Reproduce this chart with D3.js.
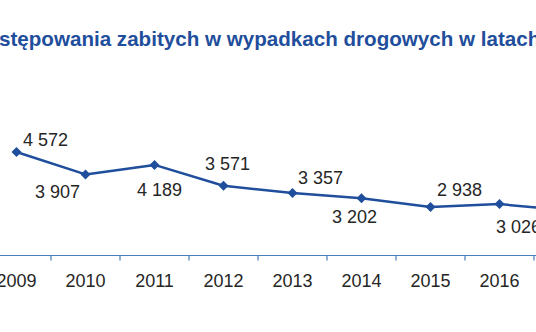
<!DOCTYPE html>
<html>
<head>
<meta charset="utf-8">
<script src="https://cdn.jsdelivr.net/npm/d3@7"></script>
<style>
  html, body { margin: 0; padding: 0; background: #fff; overflow: hidden; }
  svg { display: block; }
</style>
</head>
<body>
<svg id="chart" width="536" height="332"></svg>
<script>
// ---- data ----
const years = ["2009", "2010", "2011", "2012", "2013", "2014", "2015", "2016", "2017"];
const killed = [4572, 3907, 4189, 3571, 3357, 3202, 2938, 3026, 2831];
const valueLabels = ["4 572", "3 907", "4 189", "3 571", "3 357", "3 202", "2 938", "3 026", "2 831"];
const titleText = "występowania zabitych w wypadkach drogowych w latach";

// ---- layout (label placement relative to marker: [dx of text centre, dy of baseline]) ----
const labelOffsets = [[29, -6], [-28, 24], [5, 31], [4, -16], [28, -9], [-7, 25], [29, -11], [19, 29], [0, -12]];

const svg = d3.select("#chart");
const W = 536, H = 332;
const lineColor = "#1f4e9c";
const axisColor = "#4a7ebb";
const textColor = "#262626";
const font = "'Liberation Sans', Arial, sans-serif";

const step = 69;
const x = d3.scaleBand().domain(years).range([-18, -18 + step * years.length]).padding(0);
const y = d3.scaleLinear().domain([1500, 5000]).range([255.5, 137.6]);
const cx = d => x(d) + x.bandwidth() / 2;
const visible = d => cx(d) < W + 10;

// title
const title = svg.append("text")
  .attr("y", 46)
  .attr("font-family", font)
  .attr("font-weight", "bold")
  .attr("font-size", 20.6)
  .attr("fill", lineColor)
  .text(titleText);
// shift so that "wy" falls off the left edge
const prefixW = title.node().getSubStringLength(0, 2);
title.attr("x", -prefixW - 1);

// x axis
const axisY = y(1500);
const axisG = svg.append("g").attr("transform", `translate(0,${axisY})`);
axisG.append("line")
  .attr("x1", x.range()[0]).attr("x2", x.range()[1])
  .attr("stroke", axisColor).attr("stroke-width", 1.2);
const boundaries = years.map(d => x(d)).concat([x.range()[1]]);
axisG.selectAll("line.tick").data(boundaries).enter().append("line")
  .attr("class", "tick")
  .attr("x1", d => d).attr("x2", d => d)
  .attr("y1", 0).attr("y2", 5)
  .attr("stroke", axisColor).attr("stroke-width", 1.2);
axisG.selectAll("text").data(years.filter(visible)).enter().append("text")
  .attr("x", d => cx(d))
  .attr("y", 31)
  .attr("text-anchor", "middle")
  .attr("font-family", font)
  .attr("font-size", 18)
  .attr("fill", textColor)
  .text(d => d);

// line
const pts = years.map((d, i) => ({ year: d, v: killed[i], lab: valueLabels[i], off: labelOffsets[i] }));
const line = d3.line().x(d => cx(d.year)).y(d => y(d.v));
svg.append("path")
  .datum(pts)
  .attr("d", line)
  .attr("fill", "none")
  .attr("stroke", lineColor)
  .attr("stroke-width", 2.5)
  .attr("stroke-linejoin", "round");

// diamond markers
const r = 5;
svg.selectAll("path.marker").data(pts).enter().append("path")
  .attr("class", "marker")
  .attr("d", `M0,${-r}L${r},0L0,${r}L${-r},0Z`)
  .attr("transform", d => `translate(${cx(d.year)},${y(d.v)})`)
  .attr("fill", lineColor);

// value labels
svg.selectAll("text.val").data(pts.filter(d => visible(d.year))).enter().append("text")
  .attr("class", "val")
  .attr("x", d => cx(d.year) + d.off[0])
  .attr("y", d => y(d.v) + d.off[1])
  .attr("text-anchor", "middle")
  .attr("font-family", font)
  .attr("font-size", 18)
  .attr("fill", textColor)
  .text(d => d.lab);
</script>
</body>
</html>
